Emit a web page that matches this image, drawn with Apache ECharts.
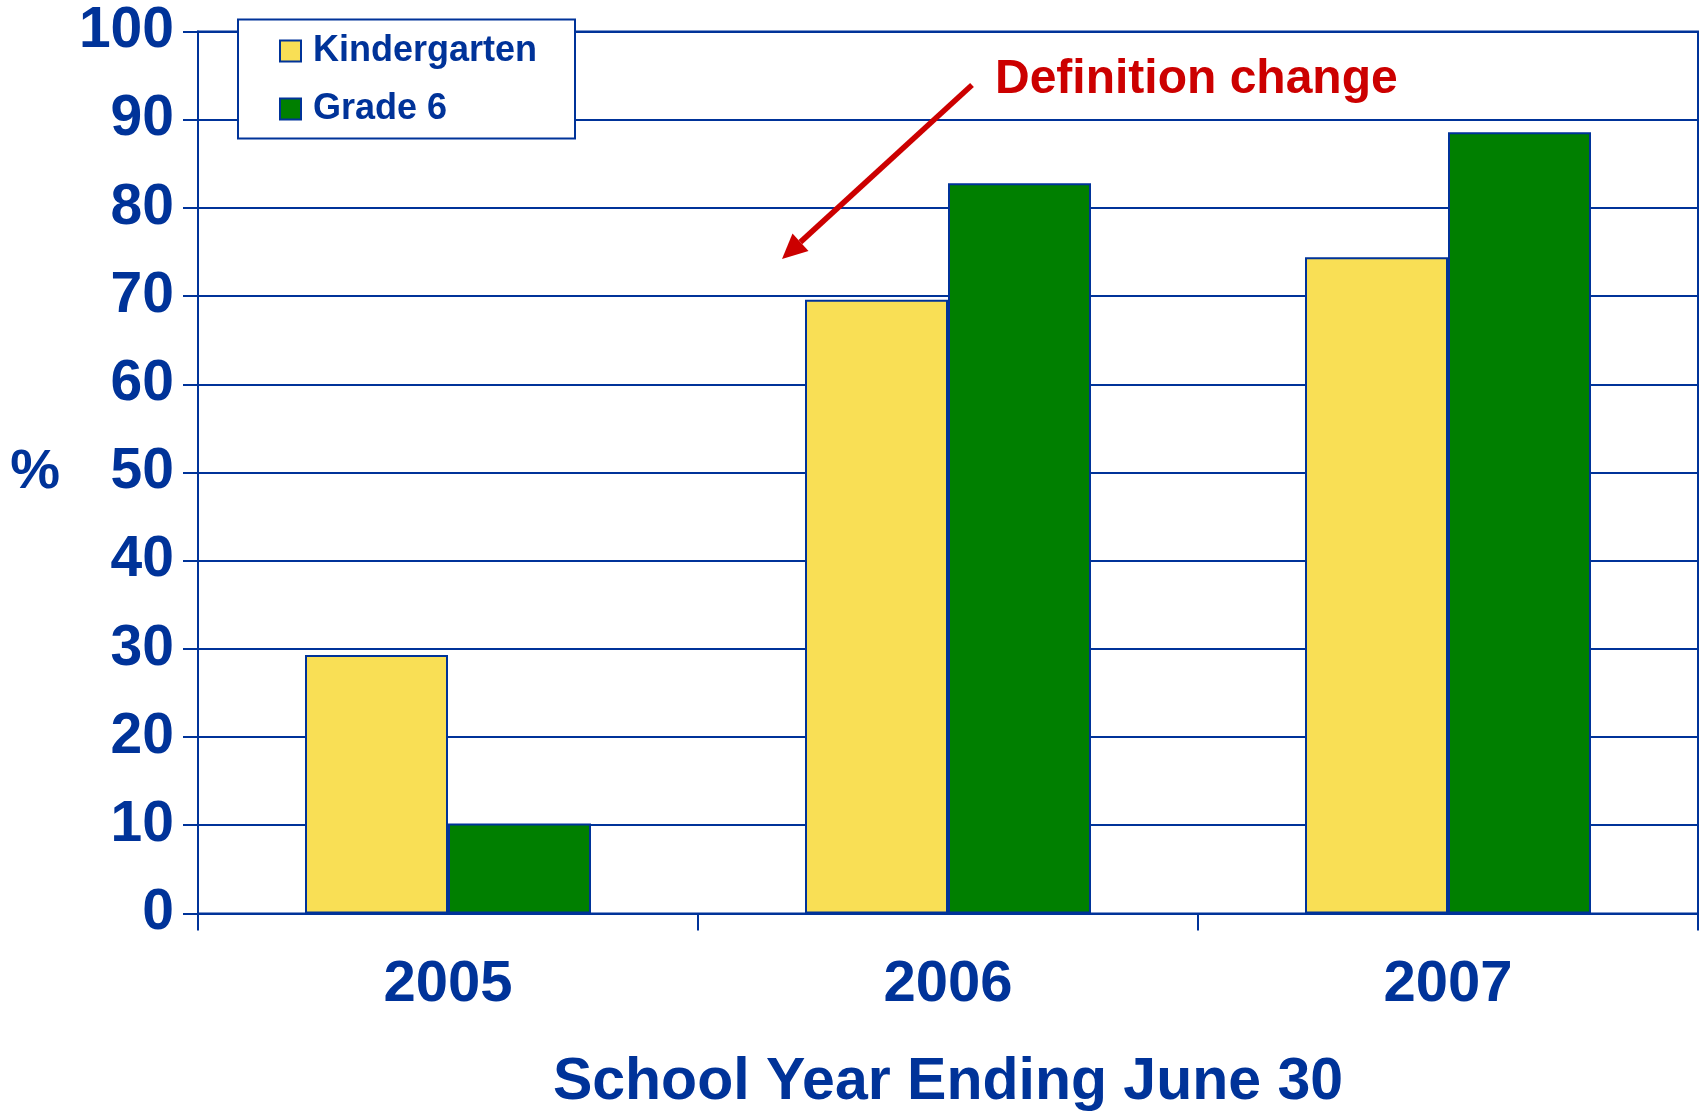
<!DOCTYPE html>
<html>
<head>
<meta charset="utf-8">
<script src="https://cdn.jsdelivr.net/npm/echarts@6/dist/echarts.min.js"></script>
<style>html,body{margin:0;padding:0;background:#fff;}#c{width:1707px;height:1114px;}</style>
</head>
<body>
<div id="c"></div>
<script>
const categories = ['2005', '2006', '2007'];
const kindergarten = [29.3, 69.6, 74.4];
const grade6 = [10.2, 82.8, 88.6];
const seriesNames = ['Kindergarten', 'Grade 6'];
const yTicks = [0, 10, 20, 30, 40, 50, 60, 70, 80, 90, 100];

const BLUE = '#003399';
const FONT = '"Liberation Sans", Arial, sans-serif';

const chart = echarts.init(document.getElementById('c'));
chart.setOption({
  animation: false,
  backgroundColor: '#ffffff',
  grid: { left: 198, right: 9, top: 31.6, bottom: 200.6, outerBoundsMode: 'none', containLabel: false,
    show: true, borderColor: BLUE, borderWidth: 2 },
  legend: {
    orient: 'vertical',
    left: 279, top: 33,
    z: 10,
    icon: 'rect',
    itemWidth: 21, itemHeight: 21,
    itemGap: 22,
    padding: 0,
    textStyle: { color: BLUE, fontFamily: FONT, fontWeight: 'bold', fontSize: 36, lineHeight: 36, padding: [0, 0, 0, 7] },
    itemStyle: { borderColor: BLUE, borderWidth: 2 },
    data: seriesNames
  },
  xAxis: {
    type: 'category',
    data: categories,
    name: 'School Year Ending June 30',
    nameLocation: 'middle',
    nameGap: 140,
    nameTextStyle: { color: BLUE, fontFamily: FONT, fontWeight: 'bold', fontSize: 59 },
    axisLine: { lineStyle: { color: BLUE, width: 2 } },
    axisTick: { show: true, length: 17, lineStyle: { color: BLUE, width: 2 } },
    axisLabel: { color: BLUE, fontFamily: FONT, fontWeight: 'bold', fontSize: 58, margin: 43 }
  },
  yAxis: {
    type: 'value',
    min: 0, max: 100, interval: 10,
    name: '%',
    nameLocation: 'middle',
    nameRotate: 0,
    nameGap: 138,
    nameTextStyle: { color: BLUE, fontFamily: FONT, fontWeight: 'bold', fontSize: 56 },
    axisLine: { show: true, lineStyle: { color: BLUE, width: 2 } },
    axisTick: { show: true, length: 15, lineStyle: { color: BLUE, width: 2 } },
    axisLabel: { color: BLUE, fontFamily: FONT, fontWeight: 'bold', fontSize: 57, margin: 24,
      formatter: v => yTicks.includes(v) ? String(v) : '' },
    splitLine: { show: true, lineStyle: { color: BLUE, width: 2 } }
  },
  series: [
    { name: seriesNames[0], type: 'bar', data: kindergarten, barWidth: 143, barGap: '0%',
      itemStyle: { color: '#F9DF55', borderColor: BLUE, borderWidth: 2 } },
    { name: seriesNames[1], type: 'bar', data: grade6, barWidth: 143, barGap: '0%',
      itemStyle: { color: '#007F00', borderColor: BLUE, borderWidth: 2 } }
  ],
  graphic: [
    { type: 'rect', left: 237, top: 18.5, z: 1,
      shape: { width: 337, height: 119 },
      style: { fill: '#ffffff', stroke: BLUE, lineWidth: 2 } },
    { type: 'text', left: 995, top: 56, z: 10,
      style: { text: 'Definition change', fill: '#CC0000', font: 'bold 48px "Liberation Sans", Arial, sans-serif' } },
    { type: 'line', z: 10,
      shape: { x1: 972, y1: 85, x2: 800.4, y2: 242.1 },
      style: { stroke: '#CC0000', lineWidth: 5.5 } },
    { type: 'polygon', z: 10,
      shape: { points: [[782, 259], [808.5, 251], [792.5, 233.5]] },
      style: { fill: '#CC0000' } }
  ]
});
</script>
</body>
</html>
